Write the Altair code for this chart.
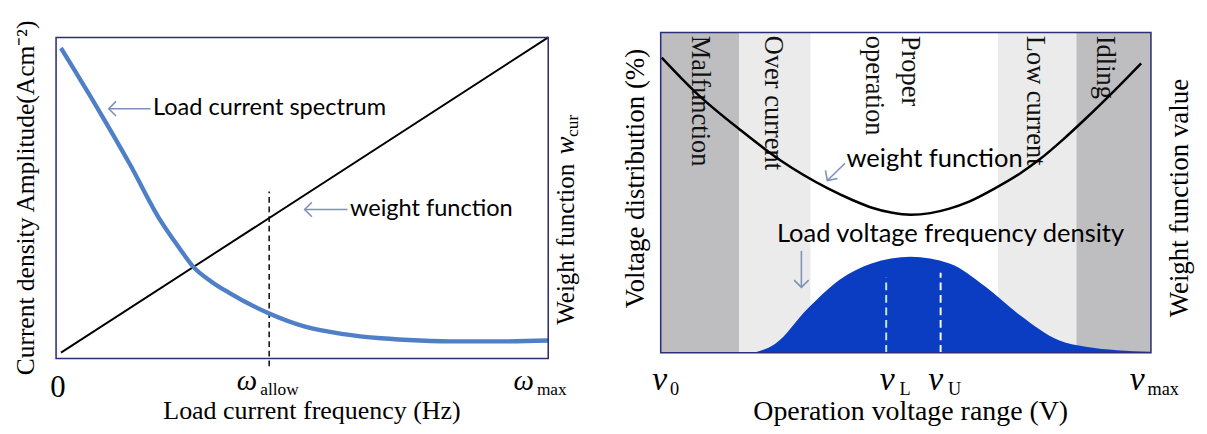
import altair as alt
import pandas as pd

# ---------------- data: left panel ----------------
spec_x = [0.01, 0.084, 0.15, 0.21, 0.25, 0.278, 0.315, 0.351, 0.433, 0.506, 0.584, 0.661, 0.739, 0.816, 0.894, 1.0]
spec_y = [0.967, 0.78, 0.605, 0.435, 0.345, 0.287, 0.24, 0.205, 0.14, 0.099, 0.076, 0.063, 0.056, 0.053, 0.053, 0.056]
wlin_x = [0.01, 1.0]
wlin_y = [0.018, 1.0]
allow_x = 0.433
allow_y = [-0.024, 0.52]

# ---------------- data: right panel ----------------
band_edges = [0.0, 0.160, 0.306, 0.688, 0.848, 1.0]
band_colors = ["#bebec1", "#ebebeb", "#ffffff", "#ebebeb", "#bebec1"]
band_names = ["Malfunction", "Over current", "Proper", "operation", "Low current", "Idling"]
band_name_x = [0.079, 0.229, 0.508, 0.435, 0.763, 0.905]

wu_x = [0.002, 0.075, 0.164, 0.247, 0.340, 0.391, 0.431, 0.470, 0.510, 0.550, 0.589, 0.629, 0.680, 0.733, 0.773, 0.820, 0.866, 0.925, 0.980]
wu_y = [0.922, 0.808, 0.694, 0.598, 0.514, 0.477, 0.453, 0.438, 0.431, 0.436, 0.450, 0.472, 0.512, 0.560, 0.604, 0.665, 0.730, 0.818, 0.904]

dens_x = [0.19, 0.233, 0.30, 0.365, 0.43, 0.51, 0.589, 0.662, 0.733, 0.812, 0.87, 0.93, 1.0]
dens_y = [0.0, 0.027, 0.138, 0.228, 0.279, 0.30, 0.279, 0.207, 0.117, 0.039, 0.018, 0.008, 0.003]

vl_x, vu_x = 0.46, 0.571
vl_top, vu_top = 0.235, 0.25

SERIF = "Liberation Serif"
SANS = "Lato"
ARROW = "#7d90b8"
FRAME = "#2a2f78"
CHEVRON = "M -1 -1 L 0 0 L -1 1"


def panel_scales(ydom):
    return alt.Scale(domain=[0, 1], nice=False, zero=False), alt.Scale(domain=ydom, nice=False, zero=False)


def enc_xy(xs, ys, xf="x", yf="y"):
    return dict(x=alt.X(f"{xf}:Q", scale=xs, axis=None), y=alt.Y(f"{yf}:Q", scale=ys, axis=None))


def text_layer(rows, xs, ys, **kw):
    df = pd.DataFrame(rows, columns=["t", "x", "y"])
    return alt.Chart(df).mark_text(clip=False, **kw).encode(text="t:N", **enc_xy(xs, ys))


def arrows(shafts, heads, xs, ys):
    sdf = pd.DataFrame(shafts, columns=["id", "x", "y"])
    hdf = pd.DataFrame(heads, columns=["x", "y", "a"])
    s = alt.Chart(sdf).mark_line(color=ARROW, strokeWidth=1.6, clip=False).encode(
        detail="id:N", order="id:N", **enc_xy(xs, ys))
    h = alt.Chart(hdf).mark_point(shape=CHEVRON, size=230, color=ARROW, strokeWidth=1.6,
                                  filled=False, opacity=1, clip=False).encode(
        angle=alt.Angle("a:Q", scale=None), **enc_xy(xs, ys))
    return s + h


def frame(xs, ys):
    df = pd.DataFrame({"x0": [0.0], "x1": [1.0], "y0": [0.0], "y1": [1.0]})
    return alt.Chart(df).mark_rect(filled=False, stroke=FRAME, strokeWidth=1.6, clip=False).encode(
        x=alt.X("x0:Q", scale=xs, axis=None), x2="x1:Q",
        y=alt.Y("y0:Q", scale=ys, axis=None), y2="y1:Q")


# ================= left panel =================
lx, ly = panel_scales([0, 1.015])
left_layers = [
    alt.Chart(pd.DataFrame({"x": wlin_x, "y": wlin_y})).mark_line(color="black", strokeWidth=2).encode(**enc_xy(lx, ly)),
    alt.Chart(pd.DataFrame({"x": [allow_x], "y": [allow_y[0]], "y2": [allow_y[1]]})).mark_rule(
        color="black", strokeWidth=1.5, strokeDash=[6, 4], clip=False).encode(
        x=alt.X("x:Q", scale=lx, axis=None), y=alt.Y("y:Q", scale=ly, axis=None), y2="y2:Q"),
    alt.Chart(pd.DataFrame({"x": spec_x, "y": spec_y})).mark_line(
        color="#4f7fc6", strokeWidth=4.5, interpolate="monotone").encode(**enc_xy(lx, ly)),
    frame(lx, ly),
    arrows([(0, 0.107, 0.778), (0, 0.192, 0.778), (1, 0.505, 0.464), (1, 0.592, 0.464)],
           [(0.107, 0.778, 180), (0.505, 0.464, 180)], lx, ly),
    text_layer([("Load current spectrum", 0.197, 0.778), ("weight function", 0.597, 0.464)], lx, ly,
               font=SANS, fontSize=24.5, align="left", baseline="middle", color="black"),
    # bottom tick-like labels
    text_layer([("0", 0.004, -0.12)], lx, ly, font=SERIF, fontSize=32, align="center", baseline="alphabetic"),
    text_layer([("ω", 0.388, -0.099), ("ω", 0.950, -0.099)], lx, ly, font=SERIF, fontSize=30,
               fontStyle="italic", align="center", baseline="alphabetic"),
    text_layer([("allow", 0.415, -0.113), ("max", 0.977, -0.113)], lx, ly, font=SERIF, fontSize=18,
               align="left", baseline="alphabetic"),
    text_layer([("Load current frequency (Hz)", 0.52, -0.189)], lx, ly, font=SERIF, fontSize=27,
               align="center", baseline="alphabetic"),
    text_layer([("Current density Amplitude(Acm⁻²)", -0.06, 0.5)], lx, ly, font=SERIF, fontSize=26.5,
               angle=270, align="center", baseline="middle"),
    text_layer([("Weight function", 1.036, 0.105)], lx, ly, font=SERIF, fontSize=26,
               angle=270, align="left", baseline="middle"),
    text_layer([("w", 1.036, 0.635)], lx, ly, font=SERIF, fontSize=28, fontStyle="italic",
               angle=270, align="left", baseline="middle"),
    text_layer([("cur", 1.050, 0.69)], lx, ly, font=SERIF, fontSize=18,
               angle=270, align="left", baseline="middle"),
]
left = alt.layer(*left_layers).properties(width=512, height=339)

# ================= right panel =================
rx, ry = panel_scales([-0.018, 1])
bands = pd.DataFrame({"x0": band_edges[:-1], "x1": band_edges[1:], "y0": 0.0, "y1": 1.0, "c": band_colors})
right_layers = [
    alt.Chart(bands).mark_rect(strokeWidth=0).encode(
        x=alt.X("x0:Q", scale=rx, axis=None), x2="x1:Q",
        y=alt.Y("y0:Q", scale=ry, axis=None), y2="y1:Q",
        color=alt.Color("c:N", scale=None)),
    alt.Chart(pd.DataFrame({"x": dens_x, "y": dens_y})).mark_area(
        color="#0b3dc2", interpolate="monotone", opacity=1).encode(**enc_xy(rx, ry)),
    alt.Chart(pd.DataFrame({"x": [vl_x, vu_x], "y": [0.0, 0.0], "y2": [vl_top, vu_top],
                            "c": ["#c4ecf6", "#ffffff"]})).mark_rule(
        strokeWidth=2, strokeDash=[8, 5]).encode(
        x=alt.X("x:Q", scale=rx, axis=None), y=alt.Y("y:Q", scale=ry, axis=None), y2="y2:Q",
        color=alt.Color("c:N", scale=None)),
    text_layer([(n, bx, 0.99) for n, bx in zip(band_names, band_name_x)], rx, ry,
               font=SERIF, fontSize=27.5, angle=90, align="left", baseline="middle", color="#111111"),
    alt.Chart(pd.DataFrame({"x": wu_x, "y": wu_y})).mark_line(
        color="black", strokeWidth=2.6, interpolate="monotone").encode(**enc_xy(rx, ry)),
    frame(rx, ry),
    arrows([(0, 0.376, 0.592), (0, 0.340, 0.538), (1, 0.287, 0.318), (1, 0.287, 0.204)],
           [(0.340, 0.538, 124), (0.287, 0.204, 90)], rx, ry),
    text_layer([("weight function", 0.379, 0.604), ("Load voltage frequency density", 0.237, 0.369)], rx, ry,
               font=SANS, fontSize=26.5, align="left", baseline="middle", color="black"),
    text_layer([("v", -0.002, -0.117), ("v", 0.462, -0.117), ("v", 0.561, -0.117), ("v", 0.972, -0.117)],
               rx, ry, font=SERIF, fontSize=35, fontStyle="italic", align="center", baseline="alphabetic"),
    text_layer([("0", 0.019, -0.132), ("L", 0.487, -0.132), ("U", 0.586, -0.132), ("max", 0.993, -0.132)],
               rx, ry, font=SERIF, fontSize=19, align="left", baseline="alphabetic"),
    text_layer([("Operation voltage range (V)", 0.51, -0.21)], rx, ry, font=SERIF, fontSize=29,
               align="center", baseline="alphabetic"),
    text_layer([("Voltage distribution (%)", -0.049, 0.544)], rx, ry, font=SERIF, fontSize=28,
               angle=270, align="center", baseline="middle"),
    text_layer([("Weight function value", 1.059, 0.483)], rx, ry, font=SERIF, fontSize=28,
               angle=270, align="center", baseline="middle"),
]
right = alt.layer(*right_layers).properties(width=510, height=339)

chart = alt.hconcat(left, right, spacing=43).configure_view(stroke=None).properties(
    background="white", padding={"left": 6, "top": 3, "right": 5, "bottom": 0})

chart.save("out.html", embed_options={"renderer": "svg", "actions": False})
